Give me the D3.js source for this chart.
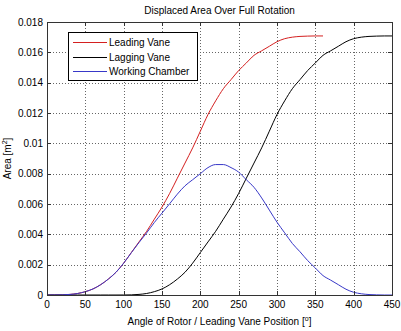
<!DOCTYPE html>
<html>
<head>
<meta charset="utf-8">
<script src="https://cdn.jsdelivr.net/npm/d3@7"></script>
<style>
  body { margin: 0; background: #fff; }
  svg { display: block; font-family: "Liberation Sans", Arial, sans-serif; }
  .tick-label { font-size: 10px; fill: #000; }
  .grid line { stroke: #666; stroke-dasharray: 1,2; stroke-width: 1; }
</style>
</head>
<body>
<div id="chart"></div>
<script>
// Rotation angle (deg) shared by all three series
const angles = [0, 10, 20, 30, 40, 50, 60, 70, 80, 90, 100, 110, 120, 130, 140, 150,
  160, 170, 180, 190, 200, 210, 220, 230, 240, 250, 260, 270, 280, 290, 300, 310,
  320, 330, 340, 350, 360, 370, 380, 390, 400, 410, 420, 430, 440, 450];

// Leading vane only runs 0..360
const leadingVane = [0, 0.000002, 0.00001, 0.00004, 0.0001, 0.00022, 0.0004, 0.00068,
  0.00105, 0.0015, 0.0021, 0.0028, 0.0035, 0.0042, 0.005, 0.0058, 0.0067, 0.0077,
  0.0087, 0.0097, 0.0108, 0.0119, 0.0128, 0.0136, 0.0142, 0.0148, 0.0153, 0.0158,
  0.0161, 0.0164, 0.0167, 0.0169, 0.017, 0.01705, 0.01707, 0.01708, 0.01708];

const laggingVane = [0, 0, 0, 0, 0, 0, 0, 0, 0, 0, 0.000002, 0.00001, 0.00004, 0.0001,
  0.00022, 0.0004, 0.00068, 0.00105, 0.0015, 0.0021, 0.0028, 0.0035, 0.0042, 0.005,
  0.0058, 0.0067, 0.0077, 0.0087, 0.0097, 0.0108, 0.0119, 0.0128, 0.0136, 0.0142,
  0.0148, 0.0153, 0.0158, 0.0161, 0.0164, 0.0167, 0.0169, 0.017, 0.01705, 0.01707,
  0.01708, 0.01708];

const workingChamber = [0, 0.000002, 0.00001, 0.00004, 0.0001, 0.00022, 0.0004, 0.00068,
  0.00105, 0.0015, 0.0021, 0.00279, 0.00346, 0.0041, 0.00478, 0.0054, 0.00602, 0.00665,
  0.0072, 0.0076, 0.008, 0.0084, 0.0086, 0.0086, 0.0084, 0.0081, 0.0076, 0.0071,
  0.0064, 0.0056, 0.0048, 0.0041, 0.0034, 0.00285, 0.00227, 0.00178, 0.00128, 0.00098,
  0.00068, 0.00038, 0.00018, 0.00008, 0.00003, 0.00001, 0, 0];

const xTicks = [0, 50, 100, 150, 200, 250, 300, 350, 400, 450];
const yTicks = [0, 0.002, 0.004, 0.006, 0.008, 0.01, 0.012, 0.014, 0.016, 0.018];
const yTickLabels = ["0", "0.002", "0.004", "0.006", "0.008", "0.01", "0.012", "0.014", "0.016", "0.018"];

const seriesNames = ["Leading Vane", "Lagging Vane", "Working Chamber"];
const seriesColors = ["#d42020", "#000000", "#3838c8"];

const width = 401;
const height = 331;
const margin = { top: 22, right: 9, bottom: 36, left: 47 };
const innerWidth = width - margin.left - margin.right;
const innerHeight = height - margin.top - margin.bottom;

const svg = d3.select("#chart").append("svg")
  .attr("width", width)
  .attr("height", height);

const plot = svg.append("g").attr("transform", `translate(${margin.left},${margin.top})`);

const x = d3.scaleLinear().domain([0, 450]).range([0, innerWidth]);
const y = d3.scaleLinear().domain([0, 0.018]).range([innerHeight, 0]);

// dotted grid
const grid = plot.append("g").attr("class", "grid");
grid.selectAll("line.gx").data(xTicks.slice(1, -1)).join("line")
  .attr("class", "gx")
  .attr("x1", (d) => Math.round(x(d)) + 0.5).attr("x2", (d) => Math.round(x(d)) + 0.5)
  .attr("y1", 0).attr("y2", innerHeight);
grid.selectAll("line.gy").data(yTicks.slice(1, -1)).join("line")
  .attr("class", "gy")
  .attr("x1", 0).attr("x2", innerWidth)
  .attr("y1", (d) => Math.round(y(d)) + 0.5).attr("y2", (d) => Math.round(y(d)) + 0.5);

// series
const seriesValues = [leadingVane, laggingVane, workingChamber];
const line = d3.line()
  .x((d) => x(d[0]))
  .y((d) => y(d[1]))
  .curve(d3.curveMonotoneX);

seriesValues.forEach((values, i) => {
  const points = values.map((v, j) => [angles[j], v]);
  plot.append("path")
    .attr("d", line(points))
    .attr("fill", "none")
    .attr("stroke", seriesColors[i])
    .attr("stroke-width", 1);
});

// box + inward ticks on all sides (matlab look)
const axisColor = "#333";
plot.append("rect")
  .attr("x", 0.5).attr("y", 0.5)
  .attr("width", innerWidth).attr("height", innerHeight)
  .attr("fill", "none").attr("stroke", axisColor);

const tickLen = 4;
xTicks.forEach((t) => {
  const px = Math.round(x(t)) + 0.5;
  plot.append("line").attr("x1", px).attr("x2", px)
    .attr("y1", innerHeight).attr("y2", innerHeight - tickLen).attr("stroke", axisColor);
  plot.append("line").attr("x1", px).attr("x2", px)
    .attr("y1", 0).attr("y2", tickLen).attr("stroke", axisColor);
  plot.append("text").attr("class", "tick-label")
    .attr("x", x(t)).attr("y", innerHeight + 13)
    .attr("text-anchor", "middle").text(t);
});

yTicks.forEach((t, i) => {
  const py = Math.round(y(t)) + 0.5;
  plot.append("line").attr("x1", 0).attr("x2", tickLen)
    .attr("y1", py).attr("y2", py).attr("stroke", axisColor);
  plot.append("line").attr("x1", innerWidth).attr("x2", innerWidth - tickLen)
    .attr("y1", py).attr("y2", py).attr("stroke", axisColor);
  plot.append("text").attr("class", "tick-label")
    .attr("x", -4).attr("y", y(t) + 3.5)
    .attr("text-anchor", "end").text(yTickLabels[i]);
});

// title and axis labels
svg.append("text").attr("class", "tick-label")
  .attr("x", margin.left + innerWidth / 2).attr("y", 14)
  .attr("text-anchor", "middle")
  .text("Displaced Area Over Full Rotation");

const xLabel = svg.append("text").attr("class", "tick-label")
  .attr("x", margin.left + innerWidth / 2).attr("y", 325)
  .attr("text-anchor", "middle");
xLabel.append("tspan").text("Angle of Rotor / Leading Vane Position [");
xLabel.append("tspan").attr("dy", -4).attr("font-size", 7).text("o");
xLabel.append("tspan").attr("dy", 4).text("]");

const yLabel = svg.append("text").attr("class", "tick-label")
  .attr("transform", `translate(11,${margin.top + innerHeight / 2}) rotate(-90)`)
  .attr("text-anchor", "middle");
yLabel.append("tspan").text("Area [m");
yLabel.append("tspan").attr("dy", -4).attr("font-size", 7).text("2");
yLabel.append("tspan").attr("dy", 4).text("]");

// legend
const legend = svg.append("g").attr("transform", "translate(68,32)");
legend.append("rect")
  .attr("x", 0.5).attr("y", 0.5).attr("width", 129).attr("height", 48)
  .attr("fill", "#fff").attr("stroke", "#000");
seriesNames.forEach((name, i) => {
  const ly = 10 + i * 14.5;
  legend.append("line")
    .attr("x1", 5).attr("x2", 39)
    .attr("y1", Math.round(ly) + 0.5).attr("y2", Math.round(ly) + 0.5)
    .attr("stroke", seriesColors[i]);
  legend.append("text").attr("class", "tick-label")
    .attr("x", 41).attr("y", ly + 4).text(name);
});
</script>
</body>
</html>
